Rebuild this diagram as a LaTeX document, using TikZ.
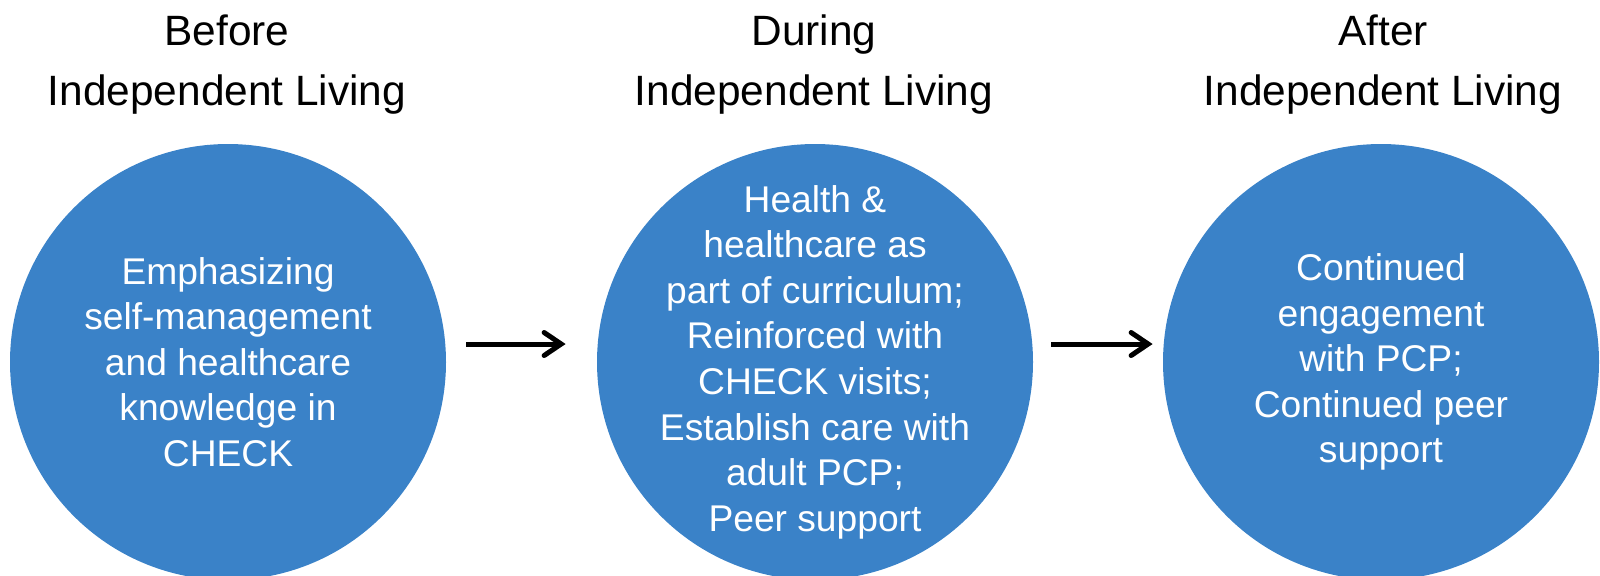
\documentclass[tikz,border=0pt]{standalone}
\usepackage{fontspec}
\setmainfont{Liberation Sans}
\usepackage{xcolor}
\usetikzlibrary{arrows.meta}
\definecolor{stageblue}{HTML}{3A82C8}

\begin{document}
\begin{tikzpicture}[x=0.5pt,y=-0.5pt,
		stage/.style={circle, fill=stageblue, draw=none, minimum size=218pt, inner sep=-20pt,
			text=white, align=center, font=\fontsize{18.6pt}{22.8pt}\selectfont},
		phase/.style={align=center, font=\fontsize{21.2pt}{30pt}\selectfont},
		flow/.style={line width=2.5pt, -{Straight Barb[length=8.5pt,width=11.5pt,line cap=round]}}]
			\useasboundingbox (0,0) rectangle (1600,575);
			% headings
			\node (tbefore) [phase] at (227,65) {Before\\Independent Living};
			\node (tduring) [phase] at (814,65) {During\\Independent Living};
			\node (tafter) [phase] at (1383,65) {After\\Independent Living};
			% stages
			\node (before) [stage] at (228,362) {Emphasizing\\self-management\\and healthcare\\knowledge in\\CHECK};
			\node (during) [stage] at (815,362) {Health \&\\healthcare as\\part of curriculum;\\Reinforced with\\CHECK visits;\\Establish care with\\adult PCP;\\Peer support};
			\node (after) [stage] at (1381,362) {Continued\\engagement\\with PCP;\\Continued peer\\support};
			% transitions, a little above the centre line
			\draw [flow, shorten <=10pt, shorten >=15.5pt] ([yshift=9pt]before.east) -- ([yshift=9pt]during.west);
			\draw [flow, shorten <=9pt, shorten >=5pt] ([yshift=9pt]during.east) -- ([yshift=9pt]after.west);
		\end{tikzpicture}
\end{document}
